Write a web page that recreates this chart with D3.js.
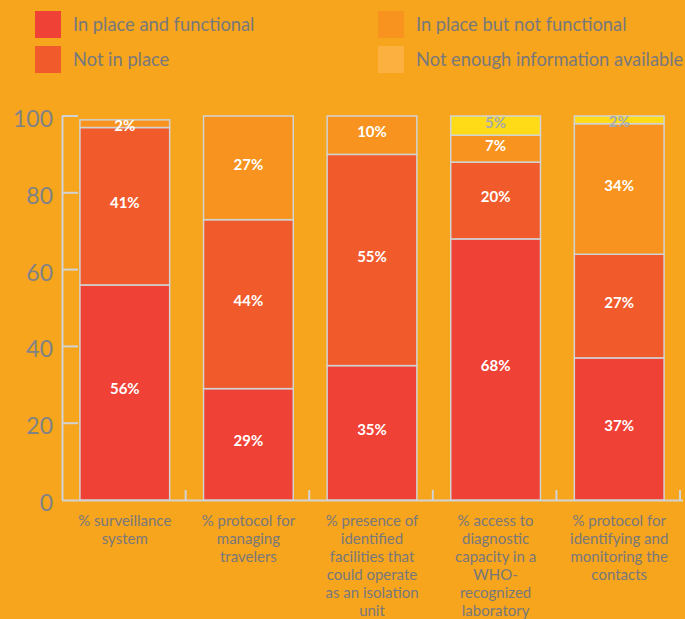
<!DOCTYPE html>
<html>
<head>
<meta charset="utf-8">
<script src="https://cdn.jsdelivr.net/npm/d3@7"></script>
<style>
  body { margin: 0; background: #F7A51D; }
  svg { display: block; font-family: Lato, "Open Sans", sans-serif; }
</style>
</head>
<body>
<svg width="685" height="619"></svg>
<script>
// Chart data
var categories = [
    ["% surveillance", "system"],
    ["% protocol for", "managing", "travelers"],
    ["% presence of", "identified", "facilities that", "could operate", "as an isolation", "unit"],
    ["% access to", "diagnostic", "capacity in a", "WHO-", "recognized", "laboratory"],
    ["% protocol for", "identifying and", "monitoring the", "contacts"]
];
var seriesNames = ["In place and functional", "Not in place", "In place but not functional", "Not enough information available"];
var functional    = [56, 29, 35, 68, 37];
var notInPlace    = [41, 44, 55, 20, 27];
var notFunctional = [2, 27, 10, 7, 34];
var noInfo        = [0, 0, 0, 5, 2];
var yTicks = [0, 20, 40, 60, 80, 100];

var colors = ["#EF4136", "#F15A2B", "#F7931E", "#FFDA17"];
var legendColors = ["#EF4136", "#F15A2B", "#F7931E", "#FBB040"];

var svg = d3.select("svg");

// legend, two columns
var legend = svg.append("g").attr("class", "legend");
var legendPos = [[35, 11], [35, 46], [378, 11], [378, 46]];
seriesNames.forEach(function(name, i) {
    var g = legend.append("g").attr("transform", "translate(" + legendPos[i][0] + "," + legendPos[i][1] + ")");
    g.append("rect").attr("width", 26).attr("height", 27).attr("fill", legendColors[i]);
    g.append("text").attr("x", 38).attr("y", 20)
        .attr("fill", "#77787b").style("font-size", "18.3px")
        .text(name);
});

// stack the data
var table = categories.map(function(c, i) {
    return { key: i, s0: functional[i], s1: notInPlace[i], s2: notFunctional[i], s3: noInfo[i] };
});
var stack = d3.stack().keys(["s0", "s1", "s2", "s3"]);
var layers = stack(table);

var x = d3.scaleBand()
    .domain(d3.range(categories.length))
    .range([62, 682])
    .paddingInner(0.274)
    .paddingOuter(0.145);
var y = d3.scaleLinear().domain([0, 100]).range([500, 116]);

var axisColor = "#D1D3D4";

// y axis line + inner ticks
svg.append("line").attr("x1", 62.5).attr("x2", 62.5).attr("y1", y(100)).attr("y2", y(0))
    .attr("stroke", axisColor).attr("stroke-width", 2);
svg.selectAll(".ytick").data(yTicks.filter(function(d){ return d > 0; })).enter()
    .append("line").attr("class", "ytick")
    .attr("x1", 62).attr("x2", 78)
    .attr("y1", function(d){ return y(d); }).attr("y2", function(d){ return y(d); })
    .attr("stroke", axisColor).attr("stroke-width", 2);
svg.selectAll(".ylab").data(yTicks).enter()
    .append("text").attr("class", "ylab")
    .attr("x", 53).attr("y", function(d){ return y(d) + 11; })
    .attr("text-anchor", "end").attr("fill", "#808285")
    .style("font-size", "23px")
    .text(function(d){ return d; });

// bottom axis line + ticks between the bands
svg.append("line").attr("x1", 62).attr("x2", 683).attr("y1", y(0) + 0.5).attr("y2", y(0) + 0.5)
    .attr("stroke", axisColor).attr("stroke-width", 2);
var bounds = d3.range(1, categories.length + 1).map(function(i){ return 62 + x.step() * i; });
svg.selectAll(".xtick").data(bounds).enter()
    .append("line").attr("class", "xtick")
    .attr("x1", function(d){ return d; }).attr("x2", function(d){ return d; })
    .attr("y1", y(0)).attr("y2", y(0) - 10)
    .attr("stroke", axisColor).attr("stroke-width", 2);

// bars
layers.forEach(function(layer, li) {
    var g = svg.append("g").attr("class", "layer");
    var segs = layer.filter(function(d){ return d[1] - d[0] > 0; });
    g.selectAll("rect").data(segs).enter().append("rect")
        .attr("x", function(d){ return x(d.data.key); })
        .attr("width", x.bandwidth())
        .attr("y", function(d){ return y(d[1]); })
        .attr("height", function(d){ return y(d[0]) - y(d[1]); })
        .attr("fill", colors[li])
        .attr("stroke", axisColor).attr("stroke-width", 1.5);
});

// value labels
layers.forEach(function(layer, li) {
    var segs = layer.filter(function(d){ return d[1] - d[0] > 0; });
    svg.append("g").selectAll("text").data(segs).enter().append("text")
        .attr("x", function(d){ return x(d.data.key) + x.bandwidth() / 2; })
        .attr("y", function(d){
            var h = y(d[0]) - y(d[1]);
            return h < 12 ? y(d[1]) + 11 : (y(d[0]) + y(d[1])) / 2 + 2;
        })
        .attr("text-anchor", "middle")
        .attr("fill", li === 3 ? "#A7A9AC" : "#fff")
        .style("font-size", "15px").style("font-weight", "bold")
        .text(function(d){ return (d[1] - d[0]) + "%"; });
});

// category labels
categories.forEach(function(lines, i) {
    var t = svg.append("text")
        .attr("x", x(i) + x.bandwidth() / 2)
        .attr("y", 526)
        .attr("text-anchor", "middle")
        .attr("fill", "#77787b")
        .style("font-size", "15px");
    lines.forEach(function(l, k) {
        t.append("tspan").attr("x", x(i) + x.bandwidth() / 2).attr("dy", k === 0 ? 0 : 18).text(l);
    });
});
</script>
</body>
</html>
